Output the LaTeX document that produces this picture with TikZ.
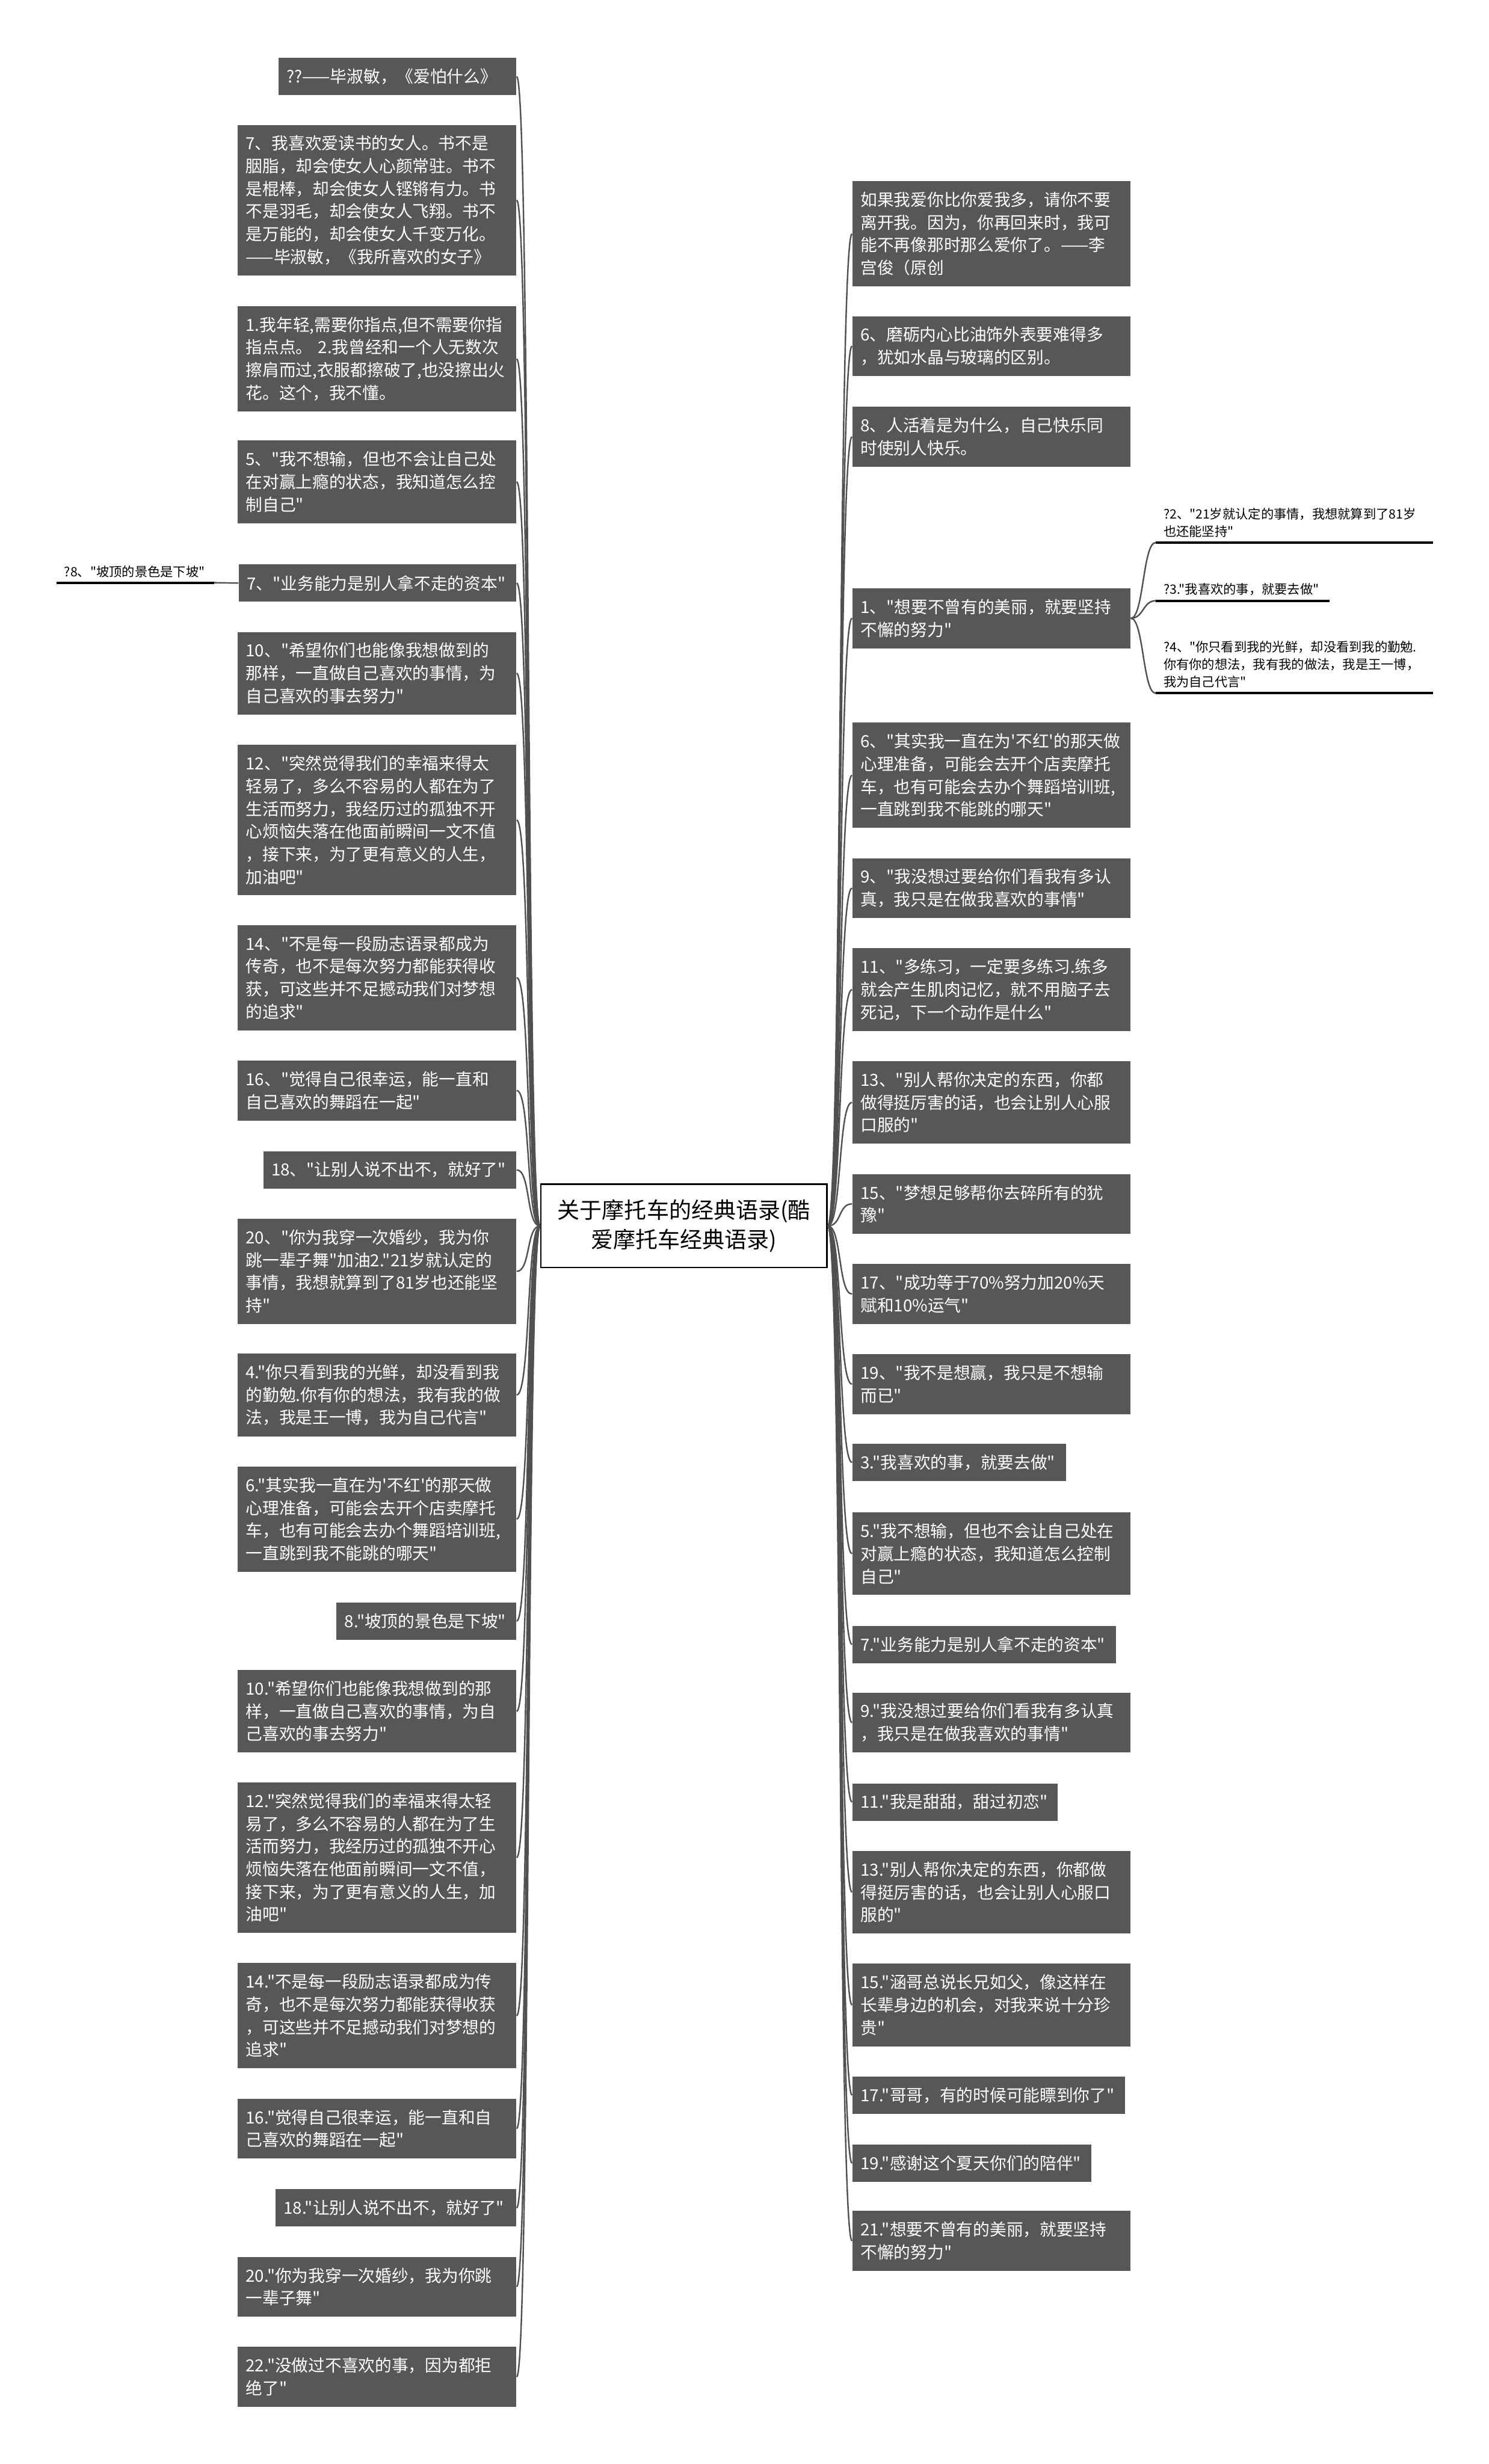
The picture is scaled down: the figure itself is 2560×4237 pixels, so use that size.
\documentclass[tikz,border=0pt]{standalone}
\usepackage{fontspec}
\setmainfont{Noto Sans CJK SC}[Ligatures=TeXOff]
\usetikzlibrary{calc}

\definecolor{leafgray}{HTML}{575757}
\definecolor{linegray}{HTML}{505050}
\newcommand{\leaffont}{\fontsize{8.6pt}{11.7pt}\selectfont}
\newcommand{\subfont}{\fontsize{6.6pt}{9pt}\selectfont}
\newcommand{\rootfont}{\fontsize{11.5pt}{15.3pt}\selectfont}

\begin{document}
\begin{tikzpicture}[x=0.3pt, y=-0.3pt,
  leaf/.style={fill=leafgray, text=white, font=\leaffont, align=left,
    anchor=north west, inner xsep=4.2pt, inner ysep=1pt},
  boxw/.code={\pgfmathsetmacro\leafw{(#1-28)*0.3}\tikzset{text width=\leafw pt}},
  nlines/.code={\pgfmathsetmacro\leafh{(39*#1+25)*0.3}\tikzset{minimum height=\leafh pt}},
  root/.style={draw=black, line width=0.8pt, fill=white, font=\rootfont,
    align=center, minimum width=147.6pt, minimum height=42.9pt},
  sub/.style={font=\subfont, align=left, anchor=south west, inner xsep=3.9pt, inner ysep=2.5pt},
  branch/.style={draw=linegray, line width=0.75pt},
  underline/.style={draw=black, line width=1.2pt}]

\fill[white] (0,0) rectangle (2560,4237);
\useasboundingbox (0,0) rectangle (2560,4237);

\node[root] (root) at (1176,2108) {关于摩托车的经典语录(酷\\爱摩托车经典语录)};

% left side
\node[leaf, boxw=409, nlines=1] (l1) at (478,99) {??——毕淑敏，《爱怕什么》};
\node[leaf, boxw=479, nlines=6] (l2) at (408,214) {7、我喜欢爱读书的女人。书不是\\胭脂，却会使女人心颜常驻。书不\\是棍棒，却会使女人铿锵有力。书\\不是羽毛，却会使女人飞翔。书不\\是万能的，却会使女人千变万化。\\——毕淑敏，《我所喜欢的女子》};
\node[leaf, boxw=479, nlines=4] (l3) at (408,526) {1.我年轻,需要你指点,但不需要你指\\指点点。 2.我曾经和一个人无数次\\擦肩而过,衣服都擦破了,也没擦出火\\花。这个，我不懂。};
\node[leaf, boxw=479, nlines=3] (l4) at (408,757) {5、"我不想输，但也不会让自己处\\在对赢上瘾的状态，我知道怎么控\\制自己"};
\node[leaf, boxw=477, nlines=1] (l5) at (410,970) {7、"业务能力是别人拿不走的资本"};
\node[leaf, boxw=479, nlines=3] (l6) at (408,1086) {10、"希望你们也能像我想做到的\\那样，一直做自己喜欢的事情，为\\自己喜欢的事去努力"};
\node[leaf, boxw=479, nlines=6] (l7) at (408,1280) {12、"突然觉得我们的幸福来得太\\轻易了，多么不容易的人都在为了\\生活而努力，我经历过的孤独不开\\心烦恼失落在他面前瞬间一文不值\\，接下来，为了更有意义的人生，\\加油吧"};
\node[leaf, boxw=479, nlines=4] (l8) at (408,1590) {14、"不是每一段励志语录都成为\\传奇，也不是每次努力都能获得收\\获，可这些并不足撼动我们对梦想\\的追求"};
\node[leaf, boxw=479, nlines=2] (l9) at (408,1823) {16、"觉得自己很幸运，能一直和\\自己喜欢的舞蹈在一起"};
\node[leaf, boxw=435, nlines=1] (l10) at (452,1979) {18、"让别人说不出不，就好了"};
\node[leaf, boxw=479, nlines=4] (l11) at (408,2095) {20、"你为我穿一次婚纱，我为你\\跳一辈子舞"加油2."21岁就认定的\\事情，我想就算到了81岁也还能坚\\持"};
\node[leaf, boxw=479, nlines=3] (l12) at (408,2327) {4."你只看到我的光鲜，却没看到我\\的勤勉.你有你的想法，我有我的做\\法，我是王一博，我为自己代言"};
\node[leaf, boxw=479, nlines=4] (l13) at (408,2521) {6."其实我一直在为'不红'的那天做\\心理准备，可能会去开个店卖摩托\\车，也有可能会去办个舞蹈培训班,\\一直跳到我不能跳的哪天"};
\node[leaf, boxw=309, nlines=1] (l14) at (578,2755) {8."坡顶的景色是下坡"};
\node[leaf, boxw=479, nlines=3] (l15) at (408,2871) {10."希望你们也能像我想做到的那\\样，一直做自己喜欢的事情，为自\\己喜欢的事去努力"};
\node[leaf, boxw=479, nlines=6] (l16) at (408,3064) {12."突然觉得我们的幸福来得太轻\\易了，多么不容易的人都在为了生\\活而努力，我经历过的孤独不开心\\烦恼失落在他面前瞬间一文不值，\\接下来，为了更有意义的人生，加\\油吧"};
\node[leaf, boxw=479, nlines=4] (l17) at (408,3375) {14."不是每一段励志语录都成为传\\奇，也不是每次努力都能获得收获\\，可这些并不足撼动我们对梦想的\\追求"};
\node[leaf, boxw=479, nlines=2] (l18) at (408,3608) {16."觉得自己很幸运，能一直和自\\己喜欢的舞蹈在一起"};
\node[leaf, boxw=414, nlines=1] (l19) at (473,3764) {18."让别人说不出不，就好了"};
\node[leaf, boxw=479, nlines=2] (l20) at (408,3880) {20."你为我穿一次婚纱，我为你跳\\一辈子舞"};
\node[leaf, boxw=479, nlines=2] (l21) at (408,4035) {22."没做过不喜欢的事，因为都拒\\绝了"};

% right side
\node[leaf, boxw=478, nlines=4] (r1) at (1465,311) {如果我爱你比你爱我多，请你不要\\离开我。因为，你再回来时，我可\\能不再像那时那么爱你了。——李\\宫俊（原创};
\node[leaf, boxw=478, nlines=2] (r2) at (1465,543) {6、磨砺内心比油饰外表要难得多\\，犹如水晶与玻璃的区别。};
\node[leaf, boxw=478, nlines=2] (r3) at (1465,699) {8、人活着是为什么，自己快乐同\\时使别人快乐。};
\node[leaf, boxw=478, nlines=2] (r4) at (1465,1011) {1、"想要不曾有的美丽，就要坚持\\不懈的努力"};
\node[leaf, boxw=478, nlines=4] (r5) at (1465,1242) {6、"其实我一直在为'不红'的那天做\\心理准备，可能会去开个店卖摩托\\车，也有可能会去办个舞蹈培训班,\\一直跳到我不能跳的哪天"};
\node[leaf, boxw=478, nlines=2] (r6) at (1465,1475) {9、"我没想过要给你们看我有多认\\真，我只是在做我喜欢的事情"};
\node[leaf, boxw=478, nlines=3] (r7) at (1465,1630) {11、"多练习，一定要多练习.练多\\就会产生肌肉记忆，就不用脑子去\\死记，下一个动作是什么"};
\node[leaf, boxw=478, nlines=3] (r8) at (1465,1824) {13、"别人帮你决定的东西，你都\\做得挺厉害的话，也会让别人心服\\口服的"};
\node[leaf, boxw=478, nlines=2] (r9) at (1465,2018) {15、"梦想足够帮你去碎所有的犹\\豫"};
\node[leaf, boxw=478, nlines=2] (r10) at (1465,2173) {17、"成功等于70\%努力加20\%天\\赋和10\%运气"};
\node[leaf, boxw=478, nlines=2] (r11) at (1465,2328) {19、"我不是想赢，我只是不想输\\而已"};
\node[leaf, boxw=367, nlines=1] (r12) at (1465,2482) {3."我喜欢的事，就要去做"};
\node[leaf, boxw=478, nlines=3] (r13) at (1465,2600) {5."我不想输，但也不会让自己处在\\对赢上瘾的状态，我知道怎么控制\\自己"};
\node[leaf, boxw=453, nlines=1] (r14) at (1465,2795) {7."业务能力是别人拿不走的资本"};
\node[leaf, boxw=478, nlines=2] (r15) at (1465,2910) {9."我没想过要给你们看我有多认真\\，我只是在做我喜欢的事情"};
\node[leaf, boxw=353, nlines=1] (r16) at (1465,3066) {11."我是甜甜，甜过初恋"};
\node[leaf, boxw=478, nlines=3] (r17) at (1465,3182) {13."别人帮你决定的东西，你都做\\得挺厉害的话，也会让别人心服口\\服的"};
\node[leaf, boxw=478, nlines=3] (r18) at (1465,3376) {15."涵哥总说长兄如父，像这样在\\长辈身边的机会，对我来说十分珍\\贵"};
\node[leaf, boxw=469, nlines=1] (r19) at (1465,3570) {17."哥哥，有的时候可能瞟到你了"};
\node[leaf, boxw=411, nlines=1] (r20) at (1465,3687) {19."感谢这个夏天你们的陪伴"};
\node[leaf, boxw=478, nlines=2] (r21) at (1465,3801) {21."想要不曾有的美丽，就要坚持\\不懈的努力"};

\foreach \i in {1,...,21}{
  \draw[branch] (root.west) .. controls +(-24,0) and +(24,0) .. (l\i.east);
  \draw[branch] (root.east) .. controls +(24,0) and +(-24,0) .. (r\i.west);
}

% small underlined topics
\node[sub, text width=135pt] (s2) at (1987,933) {?2、"21岁就认定的事情，我想就算到了81岁\\也还能坚持"};
\node[sub, text width=81.6pt] (s3) at (1987,1033) {?3."我喜欢的事，就要去做"};
\node[sub, text width=135pt] (s4) at (1987,1192) {?4、"你只看到我的光鲜，却没看到我的勤勉.\\你有你的想法，我有我的做法，我是王一博，\\我为自己代言"};
\node[sub, text width=73.2pt] (s8) at (97,1002) {?8、"坡顶的景色是下坡"};

\foreach \s in {2,3,4}{
  \draw[branch] (r4.east) .. controls +(22,0) and +(-22,0) .. (s\s.south west);
  \draw[underline] (s\s.south west) -- (s\s.south east);
}
\draw[branch] (l5.west) -- (s8.south east);
\draw[underline] (s8.south west) -- (s8.south east);
\end{tikzpicture}
\end{document}
